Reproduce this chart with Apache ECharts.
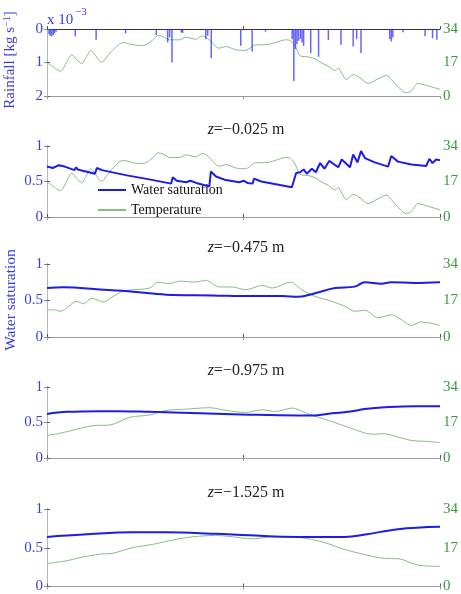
<!DOCTYPE html>
<html lang="en">
<head>
    <meta charset="UTF-8">
    <title>Rainfall, water saturation and temperature</title>
    <script src="https://cdn.jsdelivr.net/npm/echarts@6/dist/echarts.min.js"></script>
    <style>body{margin:0;background:#fff;}</style>
</head>
<body>
    <div id="main" style="width: 461px;height:594px;"></div>
    <script type="text/javascript">
        // time axis runs 0..100 (no labels on the original)
        var rainT = [0.5, 0.8, 1.2, 1.6, 1.9, 2.3, 7.2, 12.5, 20.0, 27.8, 30.7, 31.2, 31.8, 34.2, 34.5, 40.4, 40.9, 41.8,
            49.3, 52.2, 55.6, 62.4, 62.8, 63.2, 63.6, 64.0, 64.5, 64.9, 65.3, 67.1, 69.1, 71.6, 74.8, 77.9, 78.8, 79.9,
            87.2, 87.6, 88.0, 90.6, 96.2, 98.1, 99.2];
        var rainV = [0.15, 0.2, 0.22, 0.18, 0.12, 0.08, 0.22, 0.32, 0.13, 0.18, 0.4, 0.25, 1.0, 0.1, 0.12, 0.3, 0.2, 0.87,
            0.5, 0.67, 0.08, 0.3, 1.55, 0.6, 0.45, 0.35, 0.3, 0.4, 0.5, 0.72, 0.83, 0.33, 0.47, 0.52, 0.3, 0.72,
            0.3, 0.37, 0.25, 0.1, 0.22, 0.28, 0.32];

        // surface temperature (panels 1 and 2)
        var tempT0 = [0, 0.8, 3.4, 5.1, 6.3, 7.6, 8.8, 10.1, 11.1, 12.2, 13.9, 15.2, 16.8, 19.4, 21.9, 24.4, 27.0, 28.2,
            29.5, 31.2, 33.7, 35.4, 37.9, 39.6, 41.3, 43.8, 45.5, 48.0, 50.5, 53.1, 55.6, 58.1, 60.7, 61.9, 63.2, 64.4,
            66.6, 68.2, 69.9, 71.6, 73.3, 74.1, 75.0, 76.2, 77.9, 79.6, 81.7, 84.2, 86.4, 87.6, 89.3, 91.4, 92.7, 94.4,
            96.5, 98.6, 100];
        var tempV0 = [16.7, 15.9, 12.6, 17.6, 20.9, 18.4, 16.4, 20.1, 23.1, 20.9, 17.1, 19.8, 23.5, 27.1, 26.0, 25.6, 28.5, 30.7,
            30.2, 28.5, 28.5, 29.8, 28.8, 30.5, 28.5, 24.3, 25.1, 23.5, 23.1, 26.0, 26.0, 27.1, 28.5, 28.1, 25.1, 20.4,
            19.8, 18.8, 16.7, 15.1, 12.9, 14.2, 11.4, 8.4, 10.9, 9.2, 6.4, 8.7, 10.4, 8.4, 4.7, 1.7, 2.5, 6.4,
            5.4, 4.2, 3.4];

        // z = -0.025 m
        var satT1 = [0, 1.5, 3.0, 4.5, 7.0, 7.4, 7.8, 12.2, 12.7, 14.0, 20.0, 26.0, 31.6, 32.0, 33.0, 35.4, 36.5, 38.0,
            41.3, 41.7, 43.0, 45.5, 48.9, 50.1, 51.0, 52.3, 52.7, 54.5, 62.3, 63.4, 64.4, 65.3, 66.1, 67.4, 68.4, 69.5,
            70.6, 71.8, 74.1, 75.0, 77.1, 77.9, 79.0, 79.9, 80.9, 83.4, 86.8, 87.6, 89.3, 92.7, 96.5, 97.3, 98.1, 99.0, 100];
        var satV1 = [0.71, 0.69, 0.73, 0.71, 0.66, 0.70, 0.67, 0.61, 0.69, 0.66, 0.59, 0.53, 0.47, 0.56, 0.51, 0.49, 0.51, 0.48,
            0.43, 0.64, 0.57, 0.52, 0.49, 0.51, 0.48, 0.47, 0.54, 0.50, 0.42, 0.62, 0.63, 0.67, 0.61, 0.68, 0.63, 0.76,
            0.68, 0.79, 0.70, 0.81, 0.70, 0.88, 0.77, 0.93, 0.83, 0.77, 0.71, 0.86, 0.78, 0.74, 0.72, 0.82, 0.76, 0.81, 0.80];

        // z = -0.475 m
        var satT2 = [0, 4.2, 13.5, 21.9, 30.3, 42.1, 51.4, 59.8, 64.0, 68.2, 73.3, 78.3, 80.9, 85.1, 87.6, 93.5, 100];
        var satV2 = [0.67, 0.68, 0.65, 0.62, 0.58, 0.57, 0.56, 0.56, 0.55, 0.60, 0.67, 0.69, 0.75, 0.73, 0.75, 0.74, 0.75];
        var tempT2 = [0, 1.7, 3.4, 7.6, 9.3, 11.4, 14.3, 16.8, 19.4, 21.9, 26.1, 28.2, 31.2, 33.7, 37.9, 40.4, 43.8, 47.2,
            50.5, 54.8, 57.3, 61.9, 64.9, 68.2, 72.5, 75.8, 78.3, 80.9, 84.2, 87.6, 90.1, 92.7, 95.2, 97.7, 100];
        var tempV2 = [12.4, 12.7, 12.0, 16.6, 15.5, 18.1, 16.3, 18.9, 21.3, 22.0, 22.8, 25.5, 24.9, 26.0, 25.6, 26.4, 23.3, 23.3,
            22.0, 24.0, 22.8, 25.5, 22.0, 18.9, 16.6, 14.3, 12.0, 12.4, 9.0, 10.3, 8.2, 5.4, 7.0, 6.4, 5.4];

        // z = -0.975 m
        var satT3 = [0, 5.1, 13.5, 17.7, 26.1, 38.8, 51.4, 64.0, 68.2, 72.5, 76.7, 80.9, 85.1, 93.5, 100];
        var satV3 = [0.62, 0.65, 0.66, 0.66, 0.65, 0.63, 0.61, 0.60, 0.60, 0.63, 0.65, 0.69, 0.71, 0.73, 0.73];
        var tempT3 = [0, 3.4, 7.6, 11.8, 16.0, 21.1, 26.1, 30.3, 35.4, 41.3, 45.5, 50.5, 54.8, 58.1, 62.3, 66.6, 71.6, 77.5,
            82.6, 85.9, 89.3, 92.7, 96.9, 100];
        var tempV3 = [10.8, 11.9, 13.8, 15.5, 15.8, 19.5, 20.6, 22.8, 23.4, 24.1, 22.8, 21.8, 23.1, 22.3, 23.9, 21.0, 18.0, 14.2,
            11.4, 11.6, 10.0, 8.4, 7.9, 7.4];

        // z = -1.525 m
        var satT4 = [0, 9.3, 21.9, 30.3, 42.9, 51.4, 64.0, 75.8, 80.9, 89.3, 100];
        var satV4 = [0.64, 0.67, 0.70, 0.70, 0.68, 0.66, 0.64, 0.64, 0.67, 0.74, 0.77];
        var tempT4 = [0, 5.1, 8.4, 13.5, 16.8, 21.9, 26.9, 32.0, 37.1, 42.9, 47.2, 52.2, 57.3, 62.3, 66.6, 70.8, 75.8, 80.9,
            85.9, 89.3, 94.4, 100];
        var tempV4 = [10.1, 11.3, 12.7, 14.2, 14.6, 17.1, 18.5, 20.4, 21.8, 22.4, 21.8, 20.9, 21.8, 21.8, 20.9, 19.2, 16.2, 14.0,
            12.3, 12.2, 9.4, 8.8];

        var depthLabels = ['z=\u22120.025 m', 'z=\u22120.475 m', 'z=\u22120.975 m', 'z=\u22121.525 m'];

        function pairs(t, v) {
            return t.map(function (x, i) { return [x, v[i]]; });
        }

        var FONT = 'Liberation Serif';
        var BLUE = '#1c1ce6';
        var BLUE_TXT = '#3a3ae6';
        var GREEN = '#86bd86';
        var GREEN_TXT = '#3a9a3a';

        var panels = [
            {top: 29, h: 67},
            {top: 146, h: 71},
            {top: 264, h: 73},
            {top: 387, h: 71},
            {top: 509, h: 78}
        ];

        var grid = [], xAxis = [], yAxis = [], series = [], graphic = [];

        panels.forEach(function (p, i) {
            grid.push({left: 47, right: 19, top: p.top, height: p.h});
            // bottom and top frame lines
            xAxis.push({
                type: 'value', gridIndex: i, min: 0, max: 100, interval: 50,
                axisLine: {lineStyle: {color: '#333', width: 1}},
                axisTick: {inside: true, length: 3, lineStyle: {color: '#555'}},
                axisLabel: {show: false}, splitLine: {show: false}
            });
            xAxis.push({
                type: 'value', gridIndex: i, min: 0, max: 100, interval: 50, position: 'top',
                axisLine: {lineStyle: {color: '#9a9a9a', width: 1}},
                axisTick: {inside: true, length: 3, lineStyle: {color: '#9a9a9a'}},
                axisLabel: {show: false}, splitLine: {show: false}
            });
            var leftY = {
                type: 'value', gridIndex: i, position: 'left',
                min: 0, max: 1, interval: 0.5,
                axisLine: {show: true, lineStyle: {color: '#555a70'}},
                axisTick: {show: true, inside: true, length: 3},
                axisLabel: {color: BLUE_TXT, fontFamily: FONT, fontSize: 15, margin: 4},
                splitLine: {show: false}
            };
            if (i === 0) {
                leftY.max = 2;
                leftY.interval = 1;
                leftY.inverse = true;
            }
            yAxis.push(leftY);
            yAxis.push({
                type: 'value', gridIndex: i, position: 'right',
                min: 0, max: 34, interval: 17,
                axisLine: {show: true, lineStyle: {color: '#a9b9c2'}},
                axisTick: {show: true, inside: true, length: 3, lineStyle: {color: '#7f8f99'}},
                axisLabel: {color: GREEN_TXT, fontFamily: FONT, fontSize: 15, margin: 3},
                splitLine: {show: false}
            });
        });

        function tempSeries(i, data) {
            return {
                name: 'Temperature', type: 'line', xAxisIndex: 2 * i, yAxisIndex: 2 * i + 1,
                data: data, symbol: 'none', smooth: 0.3, silent: true,
                lineStyle: {color: GREEN, width: 1}, itemStyle: {color: GREEN}, z: 2
            };
        }
        function satSeries(i, data, smooth) {
            return {
                name: 'Water saturation', type: 'line', xAxisIndex: 2 * i, yAxisIndex: 2 * i,
                data: data, symbol: 'none', smooth: smooth, silent: true,
                lineStyle: {color: BLUE, width: 2}, itemStyle: {color: BLUE}, z: 3
            };
        }

        // panel 1: rainfall spikes hanging from the top + surface temperature
        series.push({
            name: 'Rainfall', type: 'bar', xAxisIndex: 0, yAxisIndex: 0,
            data: pairs(rainT, rainV), barWidth: 1.5, silent: true,
            itemStyle: {color: 'rgba(50,50,255,0.75)'}, z: 3
        });
        series.push(tempSeries(0, pairs(tempT0, tempV0)));

        series.push(tempSeries(1, pairs(tempT0, tempV0)));
        series.push(satSeries(1, pairs(satT1, satV1), false));
        series.push(tempSeries(2, pairs(tempT2, tempV2)));
        series.push(satSeries(2, pairs(satT2, satV2), 0.4));
        series.push(tempSeries(3, pairs(tempT3, tempV3)));
        series.push(satSeries(3, pairs(satT3, satV3), 0.4));
        series.push(tempSeries(4, pairs(tempT4, tempV4)));
        series.push(satSeries(4, pairs(satT4, satV4), 0.4));

        // depth titles above panels 2..5
        depthLabels.forEach(function (lab, k) {
            var p = panels[k + 1];
            graphic.push({
                type: 'text', x: 246, y: p.top - 16,
                style: {
                    text: '{i|z}' + lab.slice(1),
                    rich: {i: {fontStyle: 'italic', fontFamily: FONT, fontSize: 16, fill: '#222'}},
                    font: '16px "Liberation Serif"', fill: '#222',
                    textAlign: 'center', textVerticalAlign: 'middle'
                }
            });
        });

        // exponent note
        graphic.push({
            type: 'text', x: 47, y: 20,
            style: {text: 'x 10', font: '15px "Liberation Serif"', fill: BLUE_TXT, textVerticalAlign: 'middle'}
        });
        graphic.push({
            type: 'text', x: 75, y: 12,
            style: {text: '\u22123', font: '11px "Liberation Serif"', fill: BLUE_TXT, textVerticalAlign: 'middle'}
        });

        // y axis names
        graphic.push({
            type: 'text', x: 10, y: 60, rotation: Math.PI / 2,
            style: {
                text: 'Rainfall [kg s{s|\u22121}]',
                rich: {s: {fontSize: 10, fontFamily: FONT, fill: BLUE_TXT, verticalAlign: 'top', padding: [0, 0, 6, 0]}},
                font: '15px "Liberation Serif"', fill: BLUE_TXT,
                textAlign: 'center', textVerticalAlign: 'middle'
            }
        });
        graphic.push({
            type: 'text', x: 11, y: 300, rotation: Math.PI / 2,
            style: {
                text: 'Water saturation', font: '15.5px "Liberation Serif"', fill: BLUE_TXT,
                textAlign: 'center', textVerticalAlign: 'middle'
            }
        });

        var myChart = echarts.init(document.getElementById('main'));
        myChart.setOption({
            animation: false,
            backgroundColor: '#fff',
            legend: {
                data: ['Water saturation', 'Temperature'],
                orient: 'vertical', left: 97, top: 183, padding: 0,
                itemWidth: 28, itemHeight: 14, itemGap: 6,
                itemStyle: {opacity: 0},
                textStyle: {fontFamily: FONT, fontSize: 14, color: '#111'},
                selectedMode: false
            },
            grid: grid,
            xAxis: xAxis,
            yAxis: yAxis,
            series: series,
            graphic: graphic
        });
    </script>
</body>
</html>
